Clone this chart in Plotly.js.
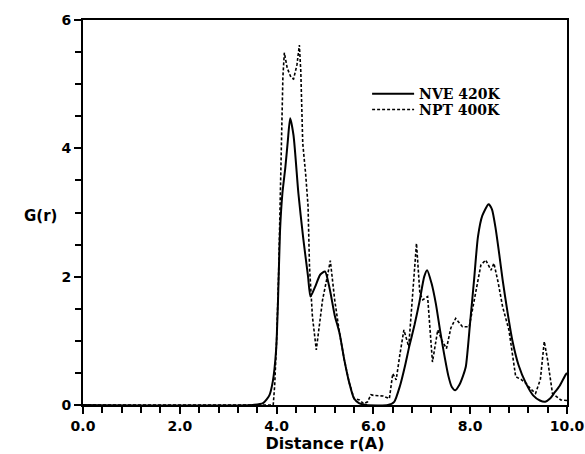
<!DOCTYPE html>
<html>
<head>
<meta charset="utf-8">
<script src="https://cdn.plot.ly/plotly-3.0.1.min.js"></script>
<style>html,body{margin:0;padding:0;background:#fff;}#chart{width:585px;height:454px;}</style>
</head>
<body>
<div id="chart"></div>
<script>
// NVE 420K (solid)
const rNVE = [0, 3.5, 3.72, 3.85, 3.92, 3.99, 4.03, 4.07, 4.12, 4.18, 4.23, 4.28, 4.35, 4.45, 4.55, 4.65, 4.7, 4.8, 4.9, 5.0, 5.1, 5.2, 5.3, 5.4, 5.5, 5.6, 5.7, 5.85, 6.3, 6.43, 6.55, 6.65, 6.74, 6.85, 6.95, 7.05, 7.11, 7.2, 7.29, 7.38, 7.46, 7.55, 7.62, 7.69, 7.78, 7.85, 7.91, 8.0, 8.08, 8.16, 8.25, 8.38, 8.45, 8.53, 8.6, 8.67, 8.77, 8.87, 9.0, 9.15, 9.3, 9.44, 9.55, 9.65, 9.73, 9.85, 9.97, 10.0];
const gNVE = [0, 0, 0.03, 0.15, 0.36, 0.86, 1.64, 2.7, 3.3, 3.7, 4.1, 4.47, 4.2, 3.3, 2.6, 2.0, 1.69, 1.85, 2.03, 2.08, 1.8, 1.4, 1.12, 0.7, 0.35, 0.1, 0.03, 0, 0, 0.05, 0.3, 0.6, 0.91, 1.25, 1.6, 2.0, 2.1, 1.9, 1.58, 1.15, 0.8, 0.45, 0.28, 0.23, 0.32, 0.45, 0.6, 1.3, 1.95, 2.62, 2.95, 3.13, 3.05, 2.73, 2.35, 1.95, 1.45, 1.01, 0.62, 0.34, 0.15, 0.07, 0.05, 0.1, 0.18, 0.3, 0.47, 0.5];
// NPT 400K (dashed)
const rNPT = [0, 3.93, 3.96, 4.0, 4.04, 4.07, 4.10, 4.13, 4.16, 4.22, 4.3, 4.35, 4.42, 4.47, 4.5, 4.54, 4.6, 4.65, 4.68, 4.74, 4.82, 4.95, 5.06, 5.11, 5.2, 5.3, 5.4, 5.5, 5.6, 5.71, 5.8, 5.88, 5.95, 6.0, 6.2, 6.33, 6.40, 6.47, 6.55, 6.63, 6.73, 6.8, 6.89, 6.96, 7.02, 7.12, 7.22, 7.33, 7.42, 7.51, 7.6, 7.70, 7.84, 7.98, 8.05, 8.12, 8.22, 8.32, 8.43, 8.49, 8.58, 8.67, 8.80, 8.94, 9.05, 9.15, 9.25, 9.35, 9.45, 9.53, 9.60, 9.70, 9.87, 10.0];
const gNPT = [0, 0, 0.3, 1.0, 2.0, 3.1, 4.08, 5.11, 5.49, 5.25, 5.1, 5.08, 5.3, 5.61, 5.2, 4.08, 3.6, 3.1, 2.15, 1.38, 0.86, 1.64, 2.05, 2.25, 1.64, 1.12, 0.7, 0.35, 0.1, 0.08, 0.02, 0.05, 0.16, 0.15, 0.14, 0.1, 0.49, 0.39, 0.8, 1.17, 0.91, 1.6, 2.52, 1.74, 1.64, 1.69, 0.67, 1.17, 1.0, 0.88, 1.2, 1.35, 1.22, 1.22, 1.5, 1.84, 2.18, 2.26, 2.10, 2.21, 1.9, 1.53, 1.17, 0.44, 0.4, 0.34, 0.25, 0.18, 0.4, 0.99, 0.70, 0.18, 0.08, 0.07];

const xTickVals = [0, 2, 4, 6, 8, 10];
const xTickText = ['0.0', '2.0', '4.0', '6.0', '8.0', '10.0'];
const yTickVals = [0, 2, 4, 6];
const yTickText = ['0', '2', '4', '6'];

const tickFont = {family: 'DejaVu Sans', size: 14, color: '#000', weight: 'bold'};
const legFont = {family: 'DejaVu Serif', size: 14, color: '#000', weight: 'bold'};

const traces = [
  {x: rNVE, y: gNVE, name: 'NVE 420K', mode: 'lines', line: {color: '#000', width: 2, shape: 'spline', smoothing: 0.6}, legend: 'legend'},
  {x: rNPT, y: gNPT, name: 'NPT 400K', mode: 'lines', line: {color: '#000', width: 1.6, dash: '3px,2px'}, legend: 'legend2'}
];

const axisCommon = {
  showgrid: false, zeroline: false, showline: true, linecolor: '#000', linewidth: 2,
  mirror: true, ticks: 'outside', tickcolor: '#000', tickwidth: 2, ticklen: 7,
  tickfont: tickFont
};

const layout = {
  width: 585, height: 454,
  margin: {l: 83, r: 18, t: 20, b: 49},
  paper_bgcolor: '#fff', plot_bgcolor: '#fff',
  showlegend: true,
  xaxis: Object.assign({}, axisCommon, {
    range: [0, 10], tickvals: xTickVals, ticktext: xTickText, ticklabeloverflow: 'allow',
    minor: {dtick: 0.4, tick0: 0, ticks: 'outside', ticklen: 6, tickwidth: 2, tickcolor: '#000'},
    title: {text: 'Distance r(A)', font: {family: 'DejaVu Sans', size: 16, color: '#000', weight: 'bold'}, standoff: 4}
  }),
  yaxis: Object.assign({}, axisCommon, {
    range: [0, 6], tickvals: yTickVals, ticktext: yTickText,
    minor: {dtick: 0.5, tick0: 0, ticks: 'outside', ticklen: 6, tickwidth: 2, tickcolor: '#000'}
  }),
  legend: {x: 0.587, y: 0.849, xanchor: 'left', yanchor: 'top', bgcolor: 'rgba(0,0,0,0)', borderwidth: 0, font: legFont, itemwidth: 42, tracegroupgap: 0},
  legend2: {x: 0.587, y: 0.808, xanchor: 'left', yanchor: 'top', bgcolor: 'rgba(0,0,0,0)', borderwidth: 0, font: legFont, itemwidth: 42, tracegroupgap: 0},
  annotations: [
    {text: 'G(r)', xref: 'paper', yref: 'paper', x: -0.087, y: 0.49, xanchor: 'center', yanchor: 'middle', showarrow: false,
     font: {family: 'DejaVu Sans', size: 15, color: '#000', weight: 'bold'}}
  ]
};

Plotly.newPlot('chart', traces, layout, {displayModeBar: false, staticPlot: true});
</script>
</body>
</html>
